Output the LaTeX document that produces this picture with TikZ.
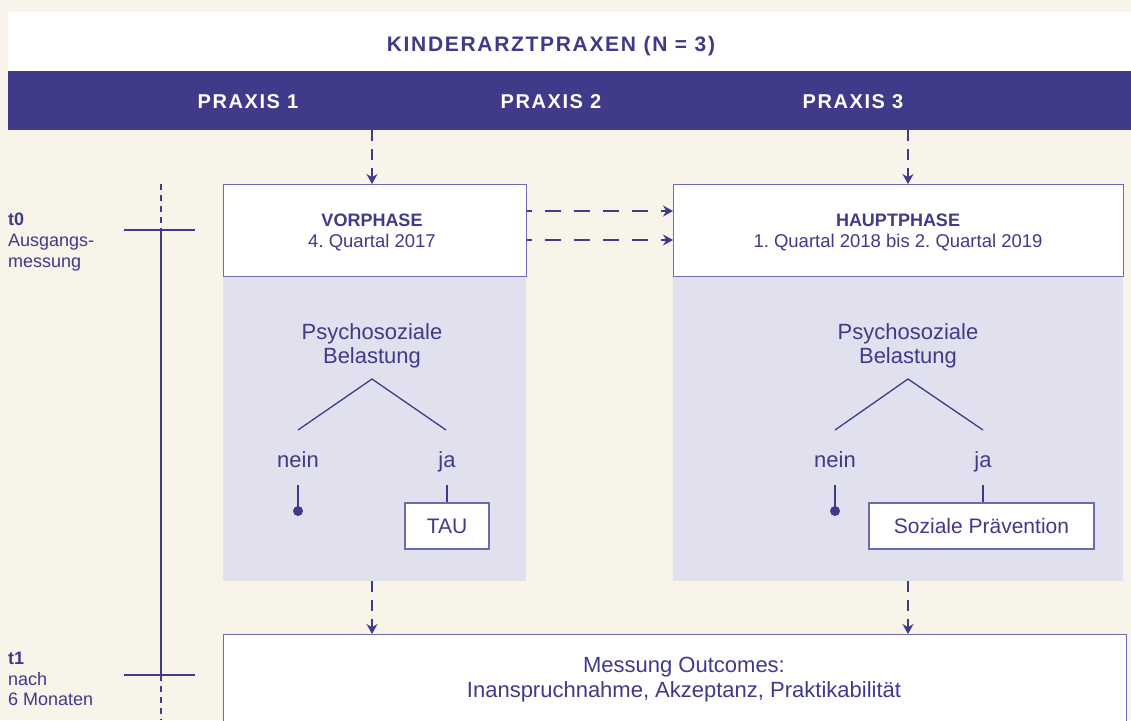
\documentclass[tikz,border=0pt]{standalone}
\usepackage{fontspec}
\setmainfont{Liberation Sans}
\newfontfamily\hdfont[LetterSpace=8]{Liberation Sans}
\usetikzlibrary{arrows.meta}
\definecolor{bg}{HTML}{F8F4E9}
\definecolor{pu}{HTML}{3F3A8A}
\definecolor{bd}{HTML}{6E6AAE}
\definecolor{sh}{HTML}{E1E0EE}
\frenchspacing
\begin{document}
\frenchspacing
\begin{tikzpicture}[x=1pt,y=-1pt,
  txt/.style={text=pu,font=\fontsize{18.5}{22}\selectfont,inner sep=0pt,anchor=base},
  txtb/.style={text=pu,font=\bfseries\fontsize{18}{22}\selectfont,inner sep=0pt,anchor=base},
  big/.style={text=pu,font=\fontsize{22}{24}\selectfont,inner sep=0pt,anchor=base},
  hd/.style={font=\hdfont\bfseries\fontsize{20}{24}\selectfont,inner sep=0pt,anchor=base},
  phasebox/.style={draw=bd,line width=1.3pt,fill=white,inner sep=0pt},
  shadebox/.style={fill=sh,draw=none,inner sep=0pt},
  dar/.style={draw=pu,line width=1.5pt,dash pattern=on 11pt off 8pt,-{Stealth[length=10pt,width=11pt]}},
  har/.style={draw=pu,line width=1.5pt,dash pattern=on 5pt off 13pt on 16pt off 13pt on 16pt off 13pt on 16pt off 13pt on 16pt off 13pt,-{Stealth[length=10pt,width=11pt]}},
  tree/.style={draw=pu,line width=1.3pt},
  stem/.style={draw=pu,line width=2pt},
  tl/.style={draw=pu,line width=2.4pt},
  tld/.style={draw=pu,line width=2.4pt,dash pattern=on 6pt off 5pt},
  lbl/.style={text=pu,font=\fontsize{18}{21}\selectfont,anchor=base west,inner sep=0pt}
]
\useasboundingbox (0,0) rectangle (1131,720);
\clip (0,0) rectangle (1131,720);
\fill[bg] (0,0) rectangle (1131,720);

% header
\node[fill=white,minimum width=1123pt,minimum height=59pt,inner sep=0pt,anchor=north west] (head) at (8,12) {};
\node[fill=pu,minimum width=1123pt,minimum height=59pt,inner sep=0pt,anchor=north west] (band) at (8,71) {};
\node[hd,text=pu,font=\hdfont\bfseries\fontsize{21}{24}\selectfont] (kinder) at (551,51) {KINDERARZTPRAXEN (N = 3)};
\node[hd,text=white] (px1) at (248,108) {PRAXIS 1};
\node[hd,text=white] (px2) at (551,108) {PRAXIS 2};
\node[hd,text=white] (px3) at (853,108) {PRAXIS 3};
\coordinate (bL) at (372,130);
\coordinate (bR) at (908,130);

% shaded regions
\node[shadebox,minimum width=303pt,minimum height=305pt,anchor=north west] (shL) at (223,276) {};
\node[shadebox,minimum width=450pt,minimum height=305pt,anchor=north west] (shR) at (673,276) {};

% phase boxes
\node[phasebox,minimum width=303pt,minimum height=92pt,anchor=north west] (vor) at (223,184) {};
\node[phasebox,minimum width=450pt,minimum height=92pt,anchor=north west] (haupt) at (673,184) {};
\node[txtb] (vorT) at (372,226) {VORPHASE};
\node[txt] (vorD) at (372,247) {4. Quartal 2017};
\node[txtb] (hauT) at (898,226) {HAUPTPHASE};
\node[txt] (hauD) at (898,247) {1. Quartal 2018 bis 2. Quartal 2019};

% bottom box
\node[phasebox,minimum width=903pt,minimum height=100pt,anchor=north west] (mess) at (223,634) {};
\node[big] (messT) at (684,672) {Messung Outcomes:};
\node[big] (messD) at (684,697) {Inanspruchnahme, Akzeptanz, Praktikabilität};

% arrows
\draw[dar] (bL) -- (bL |- vor.north);
\draw[dar] (bR) -- (bR |- haupt.north);
\draw[har] (vor.east |- 0,211) -- (haupt.west |- 0,211);
\draw[har] (vor.east |- 0,240) -- (haupt.west |- 0,240);
\draw[dar] (shL.south -| bL) -- (mess.north -| bL);
\draw[dar] (shR.south -| bR) -- (mess.north -| bR);

% left tree
\node[big] (psyL) at (372,339) {Psychosoziale};
\node[big] (belL) at (372,363) {Belastung};
\coordinate (apL) at (372,379);
\node[big] (neinL) at (298,467) {nein};
\node[big] (jaL) at (447,467) {ja};
\draw[tree] (298,430) -- (apL) -- (446,430);
\node[circle,fill=pu,inner sep=0pt,minimum size=10pt] (dotL) at (298,511) {};
\draw[stem] (298,485) -- (dotL.center);
\node[phasebox,minimum width=84pt,minimum height=46pt,text=pu,font=\fontsize{21}{24}\selectfont] (tau) at (447,526) {TAU};
\draw[stem] (tau.north |- 0,485) -- (tau.north);

% right tree
\node[big] (psyR) at (908,339) {Psychosoziale};
\node[big] (belR) at (908,363) {Belastung};
\coordinate (apR) at (908,379);
\node[big] (neinR) at (835,467) {nein};
\node[big] (jaR) at (983,467) {ja};
\draw[tree] (835,430) -- (apR) -- (983,430);
\node[circle,fill=pu,inner sep=0pt,minimum size=10pt] (dotR) at (835,511) {};
\draw[stem] (835,485) -- (dotR.center);
\node[phasebox,minimum width=225pt,minimum height=46pt,text=pu,font=\fontsize{21}{24}\selectfont] (soz) at (981.5,526) {Soziale Prävention};
\draw[stem] (983,485) -- (soz.north -| 983,0);

% timeline
\coordinate (t0) at (161,230);
\coordinate (t1) at (161,675);
\draw[tld] (161,184) -- (t0);
\draw[tl] (t0) -- (t1);
\draw[tld] (t1) -- (161,720);
\draw[tl] (124,230) -- (195,230);
\draw[tl] (124,675) -- (195,675);
\node[lbl,font=\bfseries\fontsize{18}{21}\selectfont] (l0a) at (8,225) {t0};
\node[lbl] (l0b) at (8,246) {Ausgangs-};
\node[lbl] (l0c) at (8,267) {messung};
\node[lbl,font=\bfseries\fontsize{18}{21}\selectfont] (l1a) at (8,664) {t1};
\node[lbl] (l1b) at (8,685) {nach};
\node[lbl] (l1c) at (8,705) {6 Monaten};
\end{tikzpicture}
\end{document}
